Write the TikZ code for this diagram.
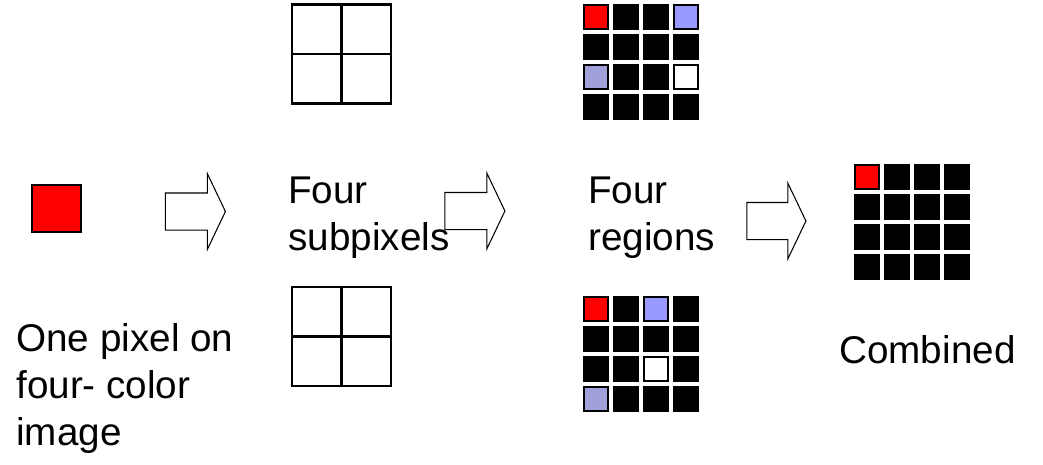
\documentclass[tikz,border=0pt]{standalone}
\usepackage{fontspec}
\setmainfont{Liberation Sans}
\usetikzlibrary{shapes.arrows}
\definecolor{pixred}{HTML}{FF0000}
\definecolor{lilac}{HTML}{9999FF}
\definecolor{greylilac}{HTML}{A0A0DA}
\tikzset{caption/.style={align=left,anchor=base west,inner sep=0pt,font=\fontsize{22}{26.7}\selectfont}}
\tikzset{cell/.style={draw=black,fill=black,rectangle,inner sep=0pt,minimum size=0.48cm,line width=0.6pt}}
\tikzset{subbox/.style={draw=black,rectangle,inner sep=0pt,minimum size=1.98cm,line width=1.3pt}}
\tikzset{blockarrow/.style={single arrow,draw=black,fill=white,line width=0.6pt,inner xsep=0pt,inner ysep=0.36cm,minimum height=1.2cm,single arrow head extend=0.39cm,single arrow tip angle=129}}

\begin{document}
\begin{tikzpicture}[x=0.02cm,y=-0.02cm]
\useasboundingbox (0,0) rectangle (1043,464);

% the single pixel
\node[draw=black,fill=pixred,inner sep=0pt,minimum width=0.98cm,minimum height=0.94cm,line width=0.6pt] (pixel) at (56.5,208.5) {};
\node[caption] (pixtext) at (16,445) {One pixel on\\four- color\\image};

% subpixel boxes
\node[subbox] (subtop) at (341.5,54) {};
\node[subbox] (subbot) at (341.5,336.5) {};
\foreach \b in {subtop,subbot} {
  \draw[line width=1.3pt] (\b.north) -- (\b.south);
  \draw[line width=1.3pt] (\b.west) -- (\b.east);
}
\node[caption] (subtext) at (288,250) {Four\\subpixels};

% four regions
\foreach \row/\colours in {0/{pixred,black,black,lilac},1/{black,black,black,black},2/{greylilac,black,black,white},3/{black,black,black,black}} {
  \foreach \col [count=\c from 0] in \colours {
    \node[cell,fill=\col] (top-\row\c) at (584+12+30*\c,5+12+30*\row) {};
  }
}
\foreach \row/\colours in {0/{pixred,black,lilac,black},1/{black,black,black,black},2/{black,black,white,black},3/{greylilac,black,black,black}} {
  \foreach \col [count=\c from 0] in \colours {
    \node[cell,fill=\col] (bot-\row\c) at (584+12+30*\c,297+12+30*\row) {};
  }
}
\node[caption] (regtext) at (588,250) {Four\\regions};

% combined
\foreach \row in {0,...,3} {
  \foreach \c in {0,...,3} {
    \node[cell] (comb-\row\c) at (855+12+30*\c,165+12+30*\row) {};
  }
}
\node[cell,fill=pixred] at (comb-00) {};
\node[caption] (combtext) at (839,363) {Combined};

% block arrows
\node[blockarrow] (arrA) at (191,211.5) {};
\node[blockarrow] (arrB) at (470.5,211) {};
\node[blockarrow,minimum height=1.18cm] (arrC) at (772,221) {};

\end{tikzpicture}
\end{document}
